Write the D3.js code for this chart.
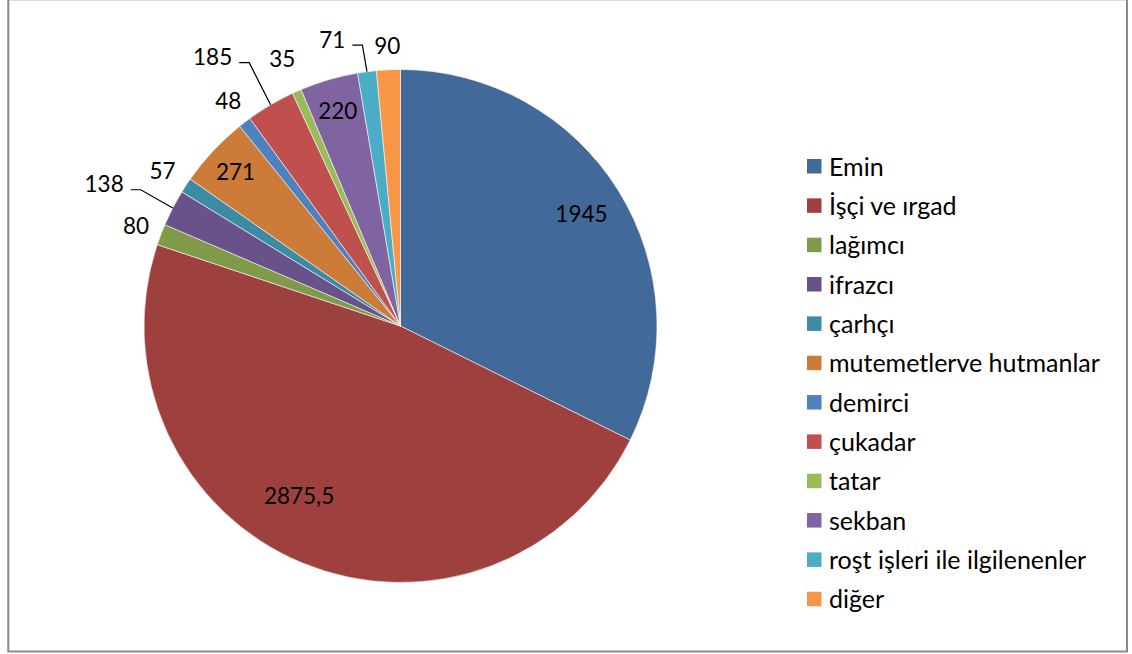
<!DOCTYPE html>
<html>
<head>
<meta charset="utf-8">
<script src="https://cdn.jsdelivr.net/npm/d3@7"></script>
<style>
  html, body { margin: 0; padding: 0; background: #ffffff; }
  svg { display: block; }
  text { font-family: Lato, "Open Sans", "Liberation Sans", sans-serif; fill: #000; }
</style>
</head>
<body>
<svg id="chart" width="1132" height="654"></svg>
<script>
// ---- data ----
const categories = ["Emin", "İşçi ve ırgad", "lağımcı", "ifrazcı", "çarhçı", "mutemetlerve hutmanlar",
  "demirci", "çukadar", "tatar", "sekban", "roşt işleri ile ilgilenenler", "diğer"];
const values = [1945, 2875.5, 80, 138, 57, 271, 48, 185, 35, 220, 71, 90];
const colors = ["#416A9B", "#9E413E", "#7F9A48", "#69518A", "#3B8CA3", "#CC7B38",
  "#4F81BD", "#C0504D", "#9BBB59", "#8064A2", "#4BACC6", "#F79646"];

// ---- label layout (placement only) ----
const labelLayout = [
  {pos: "in", k: 0.83}, {pos: "in", k: 0.75, sx: -28, sy: -8}, {pos: "out", d: 26.6},
  {pos: "out", d: 27, sx: -44.7, sy: -11.8, leader: true}, {pos: "out", d: 28},
  {pos: "in", k: 0.88}, {pos: "out", d: 27}, {pos: "out", d: 27, sx: -44.3, sy: -24.9, leader: true},
  {pos: "out", d: 35.7}, {pos: "in", k: 0.875}, {pos: "out", d: 27, sx: -31.1, sy: -5.9, leader: true},
  {pos: "out", d: 24}
];

const svg = d3.select("#chart");

// frame
svg.append("line").attr("x1", 8).attr("x2", 1128).attr("y1", 0.5).attr("y2", 0.5)
  .attr("stroke", "#dcdcdc").attr("stroke-width", 1);
svg.append("path").attr("d", "M8.3,0 L8.3,651.5 L1127,651.5 L1127,0")
  .attr("fill", "none").attr("stroke", "#8a8a8a").attr("stroke-width", 2);

const cx = 400.5, cy = 326, r = 256.5;
const g = svg.append("g").attr("transform", `translate(${cx},${cy})`);

const pie = d3.pie().sort(null).value(d => d).startAngle(0).endAngle(2 * Math.PI);
const arcs = pie(values);
const arc = d3.arc().innerRadius(0).outerRadius(r);

g.selectAll("path.slice").data(arcs).join("path")
  .attr("class", "slice")
  .attr("d", arc)
  .attr("fill", (d, i) => colors[i])
  .attr("stroke", "#ffffff").attr("stroke-width", 0.8).attr("stroke-opacity", 0.7);

const fmt = v => String(v).replace(".", ",");

arcs.forEach((a, i) => {
  const L = labelLayout[i];
  const mid = (a.startAngle + a.endAngle) / 2;
  const sx = Math.sin(mid), sy = -Math.cos(mid);
  let x, y;
  if (L.pos === "in") { x = sx * r * L.k; y = sy * r * L.k; }
  else { x = sx * (r + L.d); y = sy * (r + L.d); }
  if (L.sx) { x += L.sx; y += L.sy; }
  const t = g.append("text").attr("x", x).attr("y", y)
    .attr("text-anchor", "middle").attr("dominant-baseline", "central")
    .style("font-size", "22.5px").text(fmt(values[i]));
  if (L.leader) {
    const w = t.node().getComputedTextLength();
    const ex = x + w / 2 + 7, ey = y + 6;
    const elx = ex + 10;
    const px = sx * r, py = sy * r;
    g.append("path").attr("d", `M${ex},${ey} L${elx},${ey} L${px},${py}`)
      .attr("fill", "none").attr("stroke", "#000").attr("stroke-width", 1.2);
  }
});

// legend
const legend = svg.append("g").attr("transform", "translate(807,166.5)");
const items = legend.selectAll("g").data(categories).join("g")
  .attr("transform", (d, i) => `translate(0,${i * 39.34})`);
items.append("rect").attr("x", 0).attr("y", -7.5).attr("width", 14.5).attr("height", 14.5)
  .attr("fill", (d, i) => colors[i]);
items.append("text").attr("x", 22).attr("y", -1).attr("dominant-baseline", "central")
  .style("font-size", "25px").text(d => d);
</script>
</body>
</html>
